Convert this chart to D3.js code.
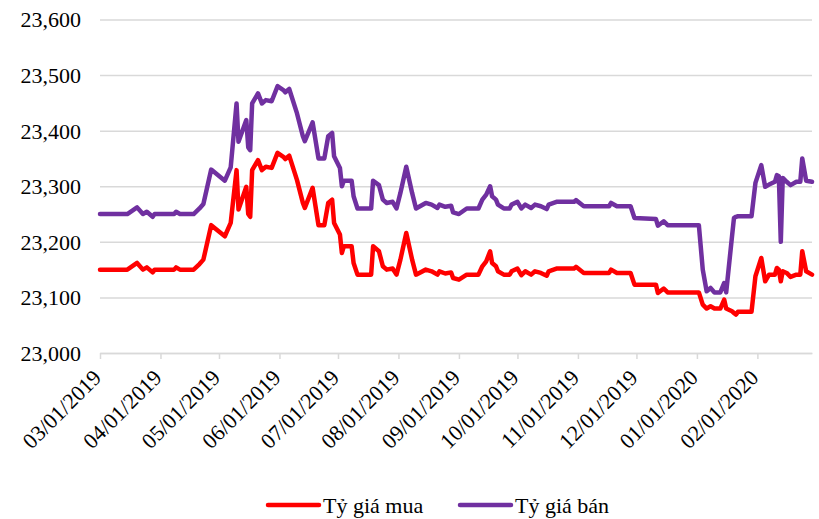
<!DOCTYPE html>
<meta charset="utf-8">
<style>
    body { margin: 0; background: #fff; }
    text { font-family: "Liberation Serif", "Times New Roman", serif; fill: #000; }
</style>

<svg width="819" height="519"></svg>

<script src="https://d3js.org/d3.v7.min.js"></script>
<script>
    var dates = [
        "2019-03-01", "2019-03-15", "2019-03-20", "2019-03-23", "2019-03-25", "2019-03-28", "2019-03-29",
        "2019-04-08", "2019-04-09", "2019-04-11", "2019-04-18", "2019-04-21", "2019-04-23", "2019-04-27",
        "2019-05-04", "2019-05-07", "2019-05-10", "2019-05-11", "2019-05-15", "2019-05-16", "2019-05-17",
        "2019-05-18", "2019-05-21", "2019-05-23", "2019-05-25", "2019-05-28", "2019-05-31",
        "2019-06-03", "2019-06-04", "2019-06-06", "2019-06-10", "2019-06-13", "2019-06-14", "2019-06-18",
        "2019-06-21", "2019-06-24", "2019-06-26", "2019-06-28", "2019-06-29",
        "2019-07-02", "2019-07-03", "2019-07-04", "2019-07-08", "2019-07-09", "2019-07-11", "2019-07-18",
        "2019-07-19", "2019-07-22", "2019-07-24", "2019-07-26", "2019-07-29", "2019-07-31",
        "2019-08-02", "2019-08-05", "2019-08-08", "2019-08-10", "2019-08-15", "2019-08-18", "2019-08-21",
        "2019-08-22", "2019-08-25", "2019-08-28", "2019-08-29",
        "2019-09-01", "2019-09-05", "2019-09-11", "2019-09-13", "2019-09-15", "2019-09-17", "2019-09-18",
        "2019-09-20", "2019-09-21", "2019-09-24", "2019-09-27", "2019-09-28",
        "2019-10-01", "2019-10-03", "2019-10-05", "2019-10-08", "2019-10-10", "2019-10-13", "2019-10-16",
        "2019-10-17", "2019-10-21", "2019-10-30", "2019-10-31",
        "2019-11-04", "2019-11-17", "2019-11-18", "2019-11-21", "2019-11-28", "2019-11-30",
        "2019-12-11", "2019-12-12", "2019-12-15", "2019-12-17",
        "2020-01-02", "2020-01-04", "2020-01-06", "2020-01-08", "2020-01-10", "2020-01-13", "2020-01-15",
        "2020-01-16", "2020-01-19", "2020-01-20", "2020-01-21", "2020-01-22", "2020-01-29", "2020-01-31",
        "2020-02-03", "2020-02-05", "2020-02-07", "2020-02-10", "2020-02-11", "2020-02-12", "2020-02-13",
        "2020-02-14", "2020-02-16", "2020-02-18", "2020-02-21", "2020-02-23", "2020-02-24", "2020-02-26",
        "2020-02-29"
    ];

    // Tỷ giá mua
    var buy = [
        23150, 23150, 23162, 23150, 23154, 23145, 23150,
        23150, 23154, 23150, 23150, 23160, 23168, 23230,
        23210, 23234, 23329, 23258, 23299, 23250, 23245,
        23329, 23347, 23329, 23335, 23333, 23360,
        23353, 23349, 23355, 23311, 23270, 23261, 23297,
        23230, 23230, 23270, 23276, 23234,
        23213, 23180, 23192, 23192, 23162, 23141, 23141,
        23192, 23183, 23156, 23150, 23152, 23141,
        23168, 23216, 23168, 23141, 23150, 23147, 23141,
        23147, 23143, 23145, 23135,
        23132, 23141, 23141, 23156, 23165, 23183, 23162,
        23156, 23147, 23141, 23141, 23147,
        23152, 23140, 23147, 23141, 23147, 23144, 23139,
        23147, 23152, 23152, 23155,
        23144, 23144, 23150, 23144, 23144, 23123,
        23123, 23108, 23116, 23109,
        23109, 23087, 23080, 23084, 23080, 23080, 23096,
        23080, 23075, 23072, 23069, 23074, 23074, 23138,
        23171, 23129, 23141, 23141, 23153, 23150, 23129,
        23147, 23144, 23137, 23141, 23141, 23183, 23147,
        23141
    ];

    // Tỷ giá bán
    var sell = [
        23250, 23250, 23262, 23250, 23254, 23245, 23250,
        23250, 23254, 23250, 23250, 23260, 23268, 23330,
        23310, 23334, 23449, 23380, 23419, 23370, 23365,
        23449, 23467, 23449, 23455, 23453, 23480,
        23473, 23469, 23475, 23431, 23390, 23381, 23415,
        23350, 23350, 23390, 23396, 23354,
        23333, 23300, 23310, 23310, 23282, 23260, 23260,
        23310, 23302, 23276, 23270, 23272, 23260,
        23288, 23335, 23288, 23260, 23270, 23267, 23261,
        23267, 23263, 23265, 23253,
        23250, 23260, 23260, 23276, 23285, 23300, 23282,
        23276, 23267, 23260, 23260, 23267,
        23272, 23260, 23267, 23261, 23267, 23264, 23259,
        23267, 23272, 23272, 23275,
        23264, 23264, 23270, 23264, 23264, 23243,
        23241, 23229, 23237, 23230,
        23230, 23150, 23111, 23117, 23109, 23109, 23126,
        23109, 23210, 23243, 23245, 23246, 23246, 23306,
        23338, 23299, 23303, 23308, 23320, 23318, 23200,
        23315, 23308, 23302, 23308, 23308, 23350, 23310,
        23308
    ];

    var yTicks = [23000, 23100, 23200, 23300, 23400, 23500, 23600];
    var seriesNames = ["Tỷ giá mua", "Tỷ giá bán"];
    var seriesColors = ["#ff0000", "#7030a0"];

    var parseDate = d3.timeParse("%Y-%m-%d"),
        formatDate = d3.timeFormat("%m/%d/%Y"),
        svg = d3.select("svg"),
        LEFT = 100,
        RIGHT = 812,
        TOP = 19.5,
        BOTTOM = 353,
        FONT = 22;

    var series = [buy, sell].map(function (vals, k) {
        return {
            name: seriesNames[k],
            color: seriesColors[k],
            points: vals.map(function (v, i) {
                return {date: parseDate(dates[i]), value: v};
            })
        };
    });

    var x = d3.scaleTime()
            .domain([parseDate("2019-03-01"), parseDate("2020-02-29")])
            .range([LEFT, RIGHT]),
        y = d3.scaleLinear()
            .domain([23000, 23600])
            .range([BOTTOM, TOP]);

    // horizontal gridlines + y labels
    var yAxis = svg.append("g")
        .attr("transform", "translate(" + LEFT + ",0)")
        .call(d3.axisLeft(y)
            .tickValues(yTicks)
            .tickFormat(d3.format(","))
            .tickSize(-(RIGHT - LEFT))
            .tickPadding(19));
    yAxis.select(".domain").remove();
    yAxis.selectAll(".tick line")
        .attr("stroke", "#d9d9d9")
        .attr("stroke-width", 1.5);
    yAxis.selectAll(".tick text")
        .attr("font-size", FONT)
        .attr("font-family", null)
        .attr("dy", "0.34em");

    // x axis
    var xAxis = svg.append("g")
        .attr("transform", "translate(0," + BOTTOM + ")")
        .call(d3.axisBottom(x)
            .ticks(d3.timeMonth.every(1))
            .tickFormat(formatDate)
            .tickSize(6)
            .tickSizeOuter(0));
    xAxis.select(".domain")
        .attr("stroke", "#d9d9d9")
        .attr("stroke-width", 1.5);
    xAxis.selectAll(".tick line")
        .attr("stroke", "#d9d9d9")
        .attr("stroke-width", 1.5);
    xAxis.selectAll(".tick text")
        .attr("font-size", FONT)
        .attr("font-family", null)
        .attr("text-anchor", "end")
        .attr("y", 0)
        .attr("dy", 0)
        .attr("transform", "translate(2,26) rotate(-45)");

    // lines
    var line = d3.line()
        .x(function (d) { return x(d.date); })
        .y(function (d) { return y(d.value); });

    svg.selectAll("path.series")
        .data(series)
        .enter()
        .append("path")
        .attr("class", "series")
        .attr("fill", "none")
        .attr("stroke", function (d) { return d.color; })
        .attr("stroke-width", 4.5)
        .attr("stroke-linejoin", "round")
        .attr("stroke-linecap", "round")
        .attr("d", function (d) { return line(d.points); });

    // legend
    var legendX = [268, 460],
        legend = svg.selectAll("g.legend")
            .data(series)
            .enter()
            .append("g")
            .attr("class", "legend")
            .attr("transform", function (d, i) {
                return "translate(" + legendX[i] + ",505)";
            });

    legend.append("line")
        .attr("x1", 0)
        .attr("x2", 51)
        .attr("stroke", function (d) { return d.color; })
        .attr("stroke-width", 4.5)
        .attr("stroke-linecap", "round");

    legend.append("text")
        .attr("x", 55)
        .attr("y", 8)
        .attr("font-size", FONT)
        .text(function (d) { return d.name; });
</script>
